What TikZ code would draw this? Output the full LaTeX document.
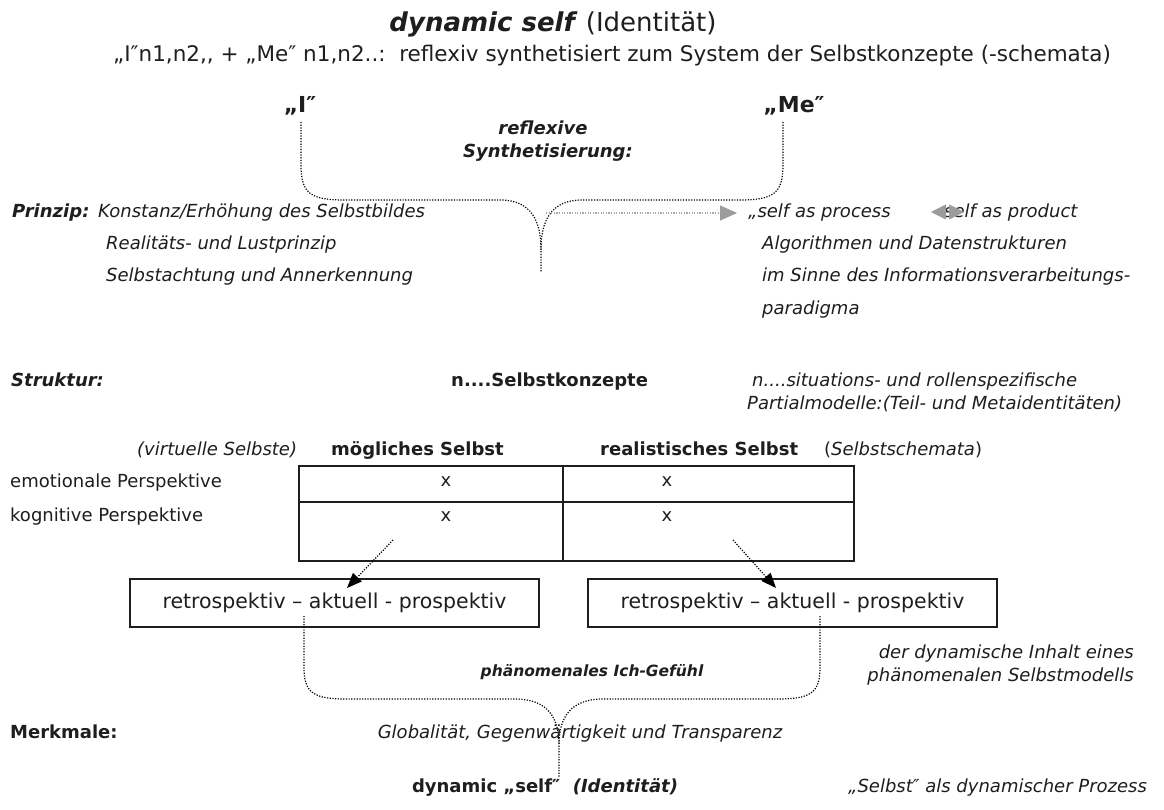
\documentclass[tikz,border=0pt]{standalone}
\usepackage{fontspec}
\setmainfont{DejaVu Sans}
\usetikzlibrary{arrows.meta}
\definecolor{ink}{HTML}{1E1E1E}
\definecolor{tipgray}{HTML}{9C9C9C}
\definecolor{linegray}{HTML}{A8A8A8}
\newcommand\setfs[1]{\fontsize{#1}{#1}\selectfont}
\begin{document}
\begin{tikzpicture}[x=1pt,y=-1pt,
  every node/.style={inner sep=0pt, text=ink, font=\setfs{18}},
  lbl/.style={anchor=base west},
  ctr/.style={anchor=base},
  rgt/.style={anchor=base east},
  dots/.style={draw=black, line width=1.2pt, dash pattern=on 1.2pt off 1.5pt},
  graydots/.style={draw=linegray, line width=1.1pt, dash pattern=on 1.1pt off 1.5pt},
  blacktip/.style={-{Triangle[length=15pt,width=12pt]}},
  graytip/.style={-{Triangle[length=17pt,width=15pt,color=tipgray]}},
  graydouble/.style={{Triangle[length=15pt,width=15pt,color=tipgray]}-{Triangle[length=15pt,width=15pt,color=tipgray]}, draw=tipgray, line width=0.5pt},
  retro/.style={draw=ink, line width=1.3pt, minimum width=409pt, minimum height=48pt, font=\setfs{20.5}},
  tableline/.style={draw=ink, line width=1.8pt}
]
\useasboundingbox[fill=white] (0,0) rectangle (1164,810);

% heading
\node[ctr, font=\setfs{26}] (title) at (553,32) {\textbf{\textit{dynamic self}} (Identität)};
\node[ctr, font=\setfs{21.5}] (subtitle) at (612,62) {„I″n1,n2,{}, + „Me″ n1,n2..:\ \ reflexiv synthetisiert zum System der Selbstkonzepte (-schemata)};

% I and Me joined by the upper brace
\node[ctr, font=\setfs{22}\bfseries] (I) at (300,113) {„I″};
\node[ctr, font=\setfs{22}\bfseries] (Me) at (794,113) {„Me″};
\node[ctr, font=\setfs{18}\bfseries\itshape] (refl) at (543,135) {reflexive};
\node[ctr, font=\setfs{18}\bfseries\itshape] (synth) at (548,158) {Synthetisierung:};

\coordinate (braceI) at (301,122);
\coordinate (braceMe) at (783,122);
\coordinate (tip) at (541,250);
\coordinate (tipEnd) at (541,272);
\draw[dots] (braceI) -- (301,165) .. controls (301,194) and (311,200) .. (345,200) -- (500,200)
  .. controls (532,200) and (541,222) .. (tip) -- (tipEnd);
\draw[dots] (braceMe) -- (783,165) .. controls (783,194) and (773,200) .. (739,200) -- (582,200)
  .. controls (550,200) and (541,222) .. (tip);

% principle column
\node[lbl, font=\setfs{18}\bfseries\itshape] (prinzip) at (12,218) {Prinzip:};
\node[lbl, font=\setfs{18}\itshape] (p1) at (98,218) {Konstanz/Erhöhung des Selbstbildes};
\node[lbl, font=\setfs{18}\itshape] (p2) at (106,250) {Realitäts- und Lustprinzip};
\node[lbl, font=\setfs{18}\itshape] (p3) at (106,281) {Selbstachtung und Annerkennung};

% process column
\node[lbl, font=\setfs{18}\itshape] (r1) at (748,218) {„self as process};
\node[lbl, font=\setfs{18}\itshape] (r1b) at (944,218) {self as product};
\node[lbl, font=\setfs{18}\itshape] (r2) at (762,250) {Algorithmen und Datenstrukturen};
\node[lbl, font=\setfs{18}\itshape] (r3) at (762,281) {im Sinne des Informationsverarbeitungs-};
\node[lbl, font=\setfs{18}\itshape] (r4) at (762,314) {paradigma};

\coordinate (arrowFrom) at (546,213);
\coordinate (arrowTo) at (737,213);
\draw[graydots, graytip] (arrowFrom) -- (arrowTo);
\coordinate (dblL) at (931,212);
\coordinate (dblR) at (964,212);
\draw[graydouble] (dblL) -- (dblR);

% structure
\node[lbl, font=\setfs{18}\bfseries\itshape] (struktur) at (11,386) {Struktur:};
\node[lbl, font=\setfs{18}\bfseries] (konzepte) at (451,386) {n....Selbstkonzepte};
\node[lbl, font=\setfs{18}\itshape] (sit) at (752,386) {n....situations- und rollenspezifische};
\node[lbl, font=\setfs{18}\itshape] (partial) at (747,409) {Partialmodelle:(Teil- und Metaidentitäten)};

\node[lbl, font=\setfs{18}\itshape] (virt) at (137,455) {(virtuelle Selbste)};
\node[lbl, font=\setfs{18}\bfseries] (moegl) at (331,455) {mögliches Selbst};
\node[lbl, font=\setfs{18}\bfseries] (real) at (600,455) {realistisches Selbst};
\node[lbl, font=\setfs{18}] (schem) at (824,455) {(\textit{Selbstschemata})};

% table of perspectives
\node[tableline, anchor=north west, minimum width=555pt, minimum height=95pt] (grid) at (298,465) {};
\coordinate (colTop) at (563,465);
\coordinate (colBot) at (563,560);
\coordinate (rowL) at (298,502);
\coordinate (rowR) at (853,502);
\draw[tableline] (colTop) -- (colBot);
\draw[tableline] (rowL) -- (rowR);

\node[lbl, font=\setfs{18}] (emo) at (10,487) {emotionale Perspektive};
\node[lbl, font=\setfs{18}] (kog) at (10,521) {kognitive Perspektive};
\node[ctr] (x11) at (446,486) {x};
\node[ctr] (x12) at (667,486) {x};
\node[ctr] (x21) at (446,521) {x};
\node[ctr] (x22) at (667,521) {x};

% time perspectives
\node[retro] (boxL) at (334.5,603) {retrospektiv – aktuell - prospektiv};
\node[retro] (boxR) at (792.5,603) {retrospektiv – aktuell - prospektiv};

\coordinate (fromL) at (393,540);
\coordinate (toL) at (347,588);
\coordinate (fromR) at (733,540);
\coordinate (toR) at (776,588);
\draw[dots, blacktip] (fromL) -- (toL);
\draw[dots, blacktip] (fromR) -- (toR);

% lower brace
\coordinate (lowL) at (304,616);
\coordinate (lowR) at (820,616);
\coordinate (lowTip) at (559,745);
\coordinate (lowEnd) at (559,778);
\draw[dots] (lowL) -- (304,668) .. controls (304,693) and (314,699) .. (346,699) -- (515,699)
  .. controls (548,699) and (559,718) .. (lowTip) -- (lowEnd);
\draw[dots] (lowR) -- (820,668) .. controls (820,693) and (810,699) .. (778,699) -- (603,699)
  .. controls (570,699) and (559,718) .. (lowTip);

\node[ctr, font=\setfs{15.5}\bfseries\itshape] (gefuehl) at (592,676) {phänomenales Ich-Gefühl};
\node[rgt, font=\setfs{18}\itshape] (inhalt1) at (1134,658) {der dynamische Inhalt eines};
\node[rgt, font=\setfs{18}\itshape] (inhalt2) at (1134,681) {phänomenalen Selbstmodells};

\node[lbl, font=\setfs{18}\bfseries] (merkmale) at (10,738) {Merkmale:};
\node[ctr, font=\setfs{18}\itshape] (global) at (580,738) {Globalität, Gegenwärtigkeit und Transparenz};

\node[ctr, font=\setfs{18}\bfseries] (dynself) at (545,792) {dynamic „self″\ \ \textit{(Identität)}};
\node[lbl, font=\setfs{18}\itshape] (prozess) at (848,792) {„Selbst″ als dynamischer Prozess};
\end{tikzpicture}
\end{document}
